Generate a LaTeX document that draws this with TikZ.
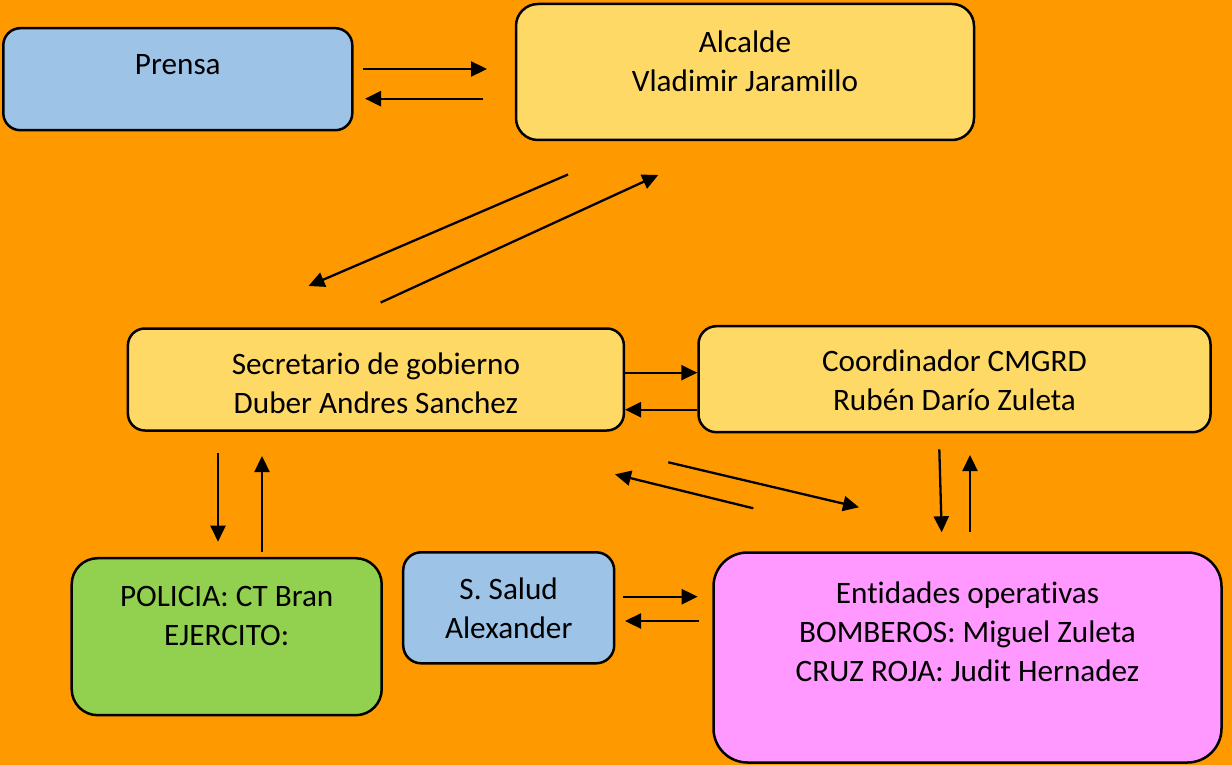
\documentclass[tikz,border=0pt]{standalone}
\usepackage{fontspec}
\setmainfont[Ligatures={NoCommon}]{Carlito}
\usepackage{tikz}
\usetikzlibrary{shapes,arrows.meta,positioning,calc}
\definecolor{bgorange}{HTML}{FF9900}
\definecolor{lightyellow}{HTML}{FFD966}
\definecolor{lightblue}{HTML}{9DC3E6}
\definecolor{lightgreen}{HTML}{92D050}
\definecolor{lightpink}{HTML}{FF99FF}
\newcommand{\boxtext}[2]{\raisebox{#1}[0pt][0pt]{\begin{tabular}[t]{@{}c@{}}#2\end{tabular}}}
\tikzstyle{box} = [rectangle, draw, line width=2.5pt, inner sep=0pt, font=\fontsize{31.2}{39}\selectfont]
\tikzstyle{line} = [draw, line width=2.3pt, -{Triangle[length=16pt,width=15pt]}]

\begin{document}
\begin{tikzpicture}[x=1pt, y=-1pt]
	\fill[bgorange] (0,0) rectangle (1232,765);
	\useasboundingbox (0,0) rectangle (1232,765);
	
	% First row
	\node[box, fill=lightblue, minimum width=349pt, minimum height=102pt, rounded corners=17pt] (Prensa) at (177.8,79.2) {\boxtext{5pt}{Prensa}};
	\node[box, fill=lightyellow, minimum width=458pt, minimum height=136pt, rounded corners=22pt] (Alcalde) at (745,72) {\boxtext{19.5pt}{Alcalde\\Vladimir Jaramillo}};
	
	% Second row
	\node[box, fill=lightyellow, minimum width=496pt, minimum height=102pt, rounded corners=17pt] (Secretario) at (375.9,379.5) {\boxtext{5.2pt}{Secretario de gobierno\\Duber Andres Sanchez}};
	\node[box, fill=lightyellow, minimum width=512pt, minimum height=106pt, rounded corners=18pt] (Coordinador) at (954.5,379.2) {\boxtext{7.5pt}{Coordinador CMGRD\\Rubén Darío Zuleta}};
	
	% Third row
	\node[box, fill=lightgreen, minimum width=310pt, minimum height=157pt, rounded corners=26pt] (Policia) at (226.7,636.7) {\boxtext{30pt}{POLICIA: CT Bran\\EJERCITO:}};
	\node[box, fill=lightblue, minimum width=211pt, minimum height=111pt, rounded corners=18pt] (Salud) at (508.7,607.8) {\boxtext{8.8pt}{S. Salud\\Alexander}};
	\node[box, fill=lightpink, minimum width=508pt, minimum height=210pt, rounded corners=34pt] (Entidades) at (967.5,657.5) {\boxtext{54.2pt}{Entidades operativas\\BOMBEROS: Miguel Zuleta\\CRUZ ROJA: Judit Hernadez}};
	
	% Arrow ends
	\coordinate (prensa-out) at (363,69);
	\coordinate (alcalde-in) at (487,69);
	\coordinate (alcalde-out) at (483,98.7);
	\coordinate (prensa-in) at (365,98.7);
	\coordinate (alcalde-down) at (568,174.5);
	\coordinate (secretario-top-in) at (308.5,286);
	\coordinate (secretario-top-out) at (380.7,302.5);
	\coordinate (alcalde-up) at (658.3,175);
	\coordinate (secretario-right-out) at (625,372.7);
	\coordinate (coordinador-left-in) at (697.3,372.7);
	\coordinate (coordinador-left-out) at (697.3,409.7);
	\coordinate (secretario-right-in) at (625,409.7);
	\coordinate (secretario-down) at (218,453.3);
	\coordinate (policia-in) at (218,541.7);
	\coordinate (policia-out) at (262,551.7);
	\coordinate (secretario-up) at (262,456);
	\coordinate (entidades-diag-out) at (753.3,508.3);
	\coordinate (secretario-diag-in) at (615,474.3);
	\coordinate (secretario-diag-out) at (668.3,462.3);
	\coordinate (entidades-diag-in) at (859,507.3);
	\coordinate (coordinador-down) at (939.3,449.3);
	\coordinate (entidades-top-in) at (941.7,532.3);
	\coordinate (entidades-top-out) at (970,531.7);
	\coordinate (coordinador-up) at (970,455);
	\coordinate (salud-out) at (623.3,596.7);
	\coordinate (entidades-left-in) at (697.7,596.7);
	\coordinate (entidades-left-out) at (699,621);
	\coordinate (salud-in) at (625,621);
	
	% Paths
	\path [line] (prensa-out) -- (alcalde-in);
	\path [line] (alcalde-out) -- (prensa-in);
	\path [line] (alcalde-down) -- (secretario-top-in);
	\path [line] (secretario-top-out) -- (alcalde-up);
	\path [line] (secretario-right-out) -- (coordinador-left-in);
	\path [line] (coordinador-left-out) -- (secretario-right-in);
	\path [line] (secretario-down) -- (policia-in);
	\path [line] (policia-out) -- (secretario-up);
	\path [line] (entidades-diag-out) -- (secretario-diag-in);
	\path [line] (secretario-diag-out) -- (entidades-diag-in);
	\path [line] (coordinador-down) -- (entidades-top-in);
	\path [line] (entidades-top-out) -- (coordinador-up);
	\path [line] (salud-out) -- (entidades-left-in);
	\path [line] (entidades-left-out) -- (salud-in);
\end{tikzpicture}
\end{document}
